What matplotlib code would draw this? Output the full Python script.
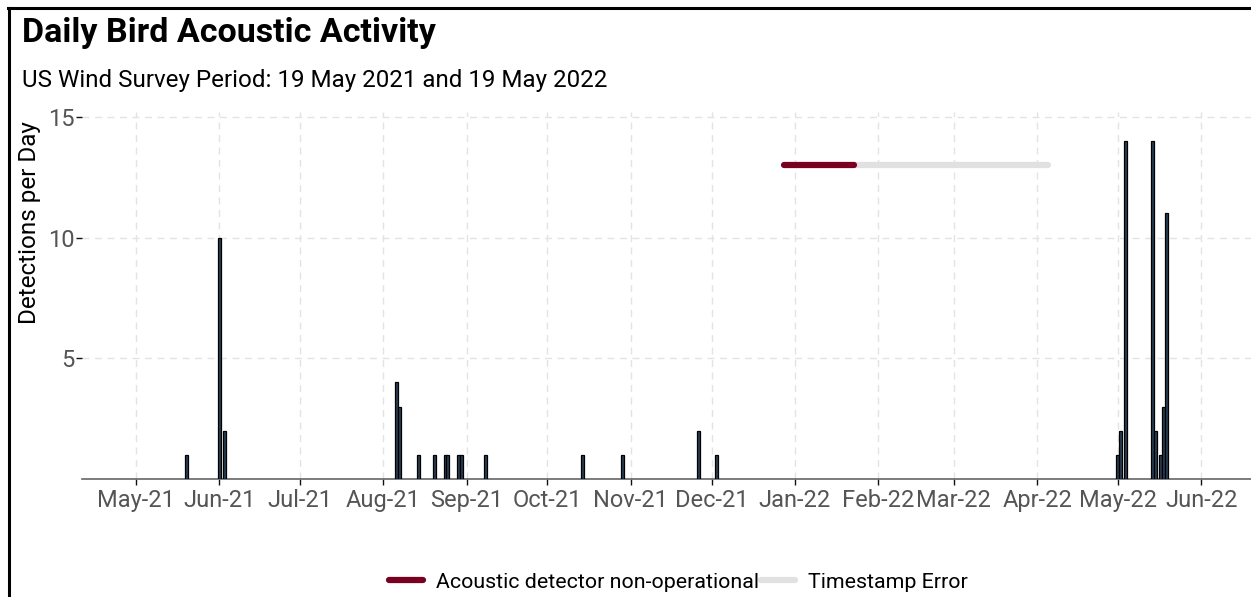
import numpy as np
import pandas as pd
import matplotlib
matplotlib.use("Agg")
import matplotlib.pyplot as plt
import matplotlib.dates as mdates
from matplotlib.lines import Line2D

plt.rcParams['font.family'] = ['Roboto', 'DejaVu Sans']

# daily detections (date, count)
det_dates = ['2021-05-20', '2021-06-01', '2021-06-03',
             '2021-08-06', '2021-08-07', '2021-08-14', '2021-08-20',
             '2021-08-24', '2021-08-25', '2021-08-29', '2021-08-30',
             '2021-09-08', '2021-10-14', '2021-10-29', '2021-11-26',
             '2021-12-03',
             '2022-05-01', '2022-05-02', '2022-05-04', '2022-05-14',
             '2022-05-15', '2022-05-17', '2022-05-18', '2022-05-19']
det_counts = [1, 10, 2,
              4, 3, 1, 1,
              1, 1, 1, 1,
              1, 1, 1, 2,
              1,
              1, 2, 14, 14,
              2, 1, 3, 11]

# outage periods
nonop_period = ['2021-12-28', '2022-01-23']
tserr_period = ['2022-01-23', '2022-04-05']
outage_level = 13

x = pd.to_datetime(det_dates)

fig = plt.figure(figsize=(12.51, 5.97), dpi=100)
ax = fig.add_axes([0.0655, 0.1977, 0.9345, 0.6147])

ax.bar(x, det_counts, width=1.15, color='#2a3f55', edgecolor='black', linewidth=0.9, zorder=3)

ax.plot(pd.to_datetime(tserr_period), [outage_level] * 2, color='#e1e1e1', lw=4.5,
        solid_capstyle='round', zorder=4)
ax.plot(pd.to_datetime(nonop_period), [outage_level] * 2, color='#7a0022', lw=4.5,
        solid_capstyle='round', zorder=5)

ax.set_xlim(pd.Timestamp('2021-04-11'), pd.Timestamp('2022-06-19 12:00'))
ax.set_ylim(0, 15.2)
ax.set_yticks([5, 10, 15])
ax.xaxis.set_major_locator(mdates.MonthLocator())
ax.xaxis.set_major_formatter(mdates.DateFormatter('%b-%y'))

ax.grid(True, color='#e3e3e3', linestyle=(0, (5, 4)), linewidth=1.0, zorder=0)
for s in ['top', 'right', 'left']:
    ax.spines[s].set_visible(False)
ax.spines['bottom'].set_color('#666666')
ax.spines['bottom'].set_linewidth(1.2)
ax.tick_params(axis='both', colors='#111111', labelcolor='#555555', labelsize=17,
               length=4, width=1)
ax.tick_params(axis='y', pad=1)
ax.tick_params(axis='x', pad=3)
ax.set_ylabel('Detections per Day', fontsize=17.5, labelpad=5, y=0.70)

fig.text(0.0176, 0.93, 'Daily Bird Acoustic Activity', fontsize=24.5, fontweight='bold')
fig.text(0.0176, 0.855, 'US Wind Survey Period: 19 May 2021 and 19 May 2022', fontsize=17.4)

handles = [Line2D([], [], color='#7a0022', lw=4.5, solid_capstyle='round'),
           Line2D([], [], color='#e1e1e1', lw=4.5, solid_capstyle='round')]
fig.legend(handles, ['Acoustic detector non-operational', 'Timestamp Error'],
           loc='center', bbox_to_anchor=(0.542, 0.025), ncol=2, frameon=False,
           fontsize=15.4, handlelength=1.6, columnspacing=0.1, handletextpad=0.6)

# screenshot border on top and left
fig.add_artist(Line2D([0.0064, 1.0], [0.986, 0.986], color='black', lw=2.2, transform=fig.transFigure))
fig.add_artist(Line2D([0.0068, 0.0068], [0.0, 0.986], color='black', lw=2.2, transform=fig.transFigure))

fig.savefig('out.png', dpi=100)
